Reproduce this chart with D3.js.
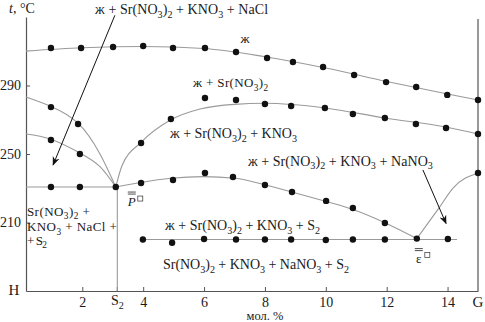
<!DOCTYPE html>
<html>
<head>
<meta charset="utf-8">
<script src="https://cdn.jsdelivr.net/npm/d3@7"></script>
<style>
  body { margin: 0; background: #fff; }
  svg text { font-family: "Liberation Serif", "Times New Roman", "DejaVu Serif", serif; fill: #1a1a1a; }
</style>
</head>
<body>
<svg id="chart" width="485" height="322"></svg>
<script>
// values: x in мол. %, y in °C
var xTicks = [2, 4, 6, 8, 10, 12, 14];
var yTicks = [210, 250, 290];
var s2 = 3.15;

// liquidus lines
var curveTop = [[0.15, 310.1], [2, 312.0], [4, 312.8], [6, 311.6], [8, 306.8], [10, 300.2], [12, 292.3], [14, 285.0], [15, 281.5]];
var curveA = [[0.15, 283.3], [0.97, 277.8], [1.86, 268.0], [2.58, 250.0], [3.1, 230.7]];
var curveB = [[0.15, 261.7], [0.97, 258.6], [1.92, 250.6], [2.58, 242.6], [3.1, 230.7]];
var curveC = [[3.1, 230.7], [3.3, 243.0], [3.93, 256.8], [4.91, 270.0], [5.87, 276.3], [7.0, 279.0], [8.0, 279.6], [9.97, 276.9], [11.94, 271.0], [13.98, 265.6], [15.0, 261.7]];
var curveD = [[3.1, 230.7], [3.93, 233.4], [4.9, 235.8], [5.97, 236.8], [7.02, 235.8], [8.0, 232.0], [8.89, 227.8], [10.01, 222.3], [10.89, 217.6], [11.94, 209.9], [12.99, 200.6]];
var curveE = [[12.99, 200.6], [13.72, 218.5], [14.18, 230.1], [15.0, 238.9]];
var eutecticP = [[0.15, 230.7], [3.1, 230.7]];
var solidus = [[3.99, 200.1], [14.31, 200.1]];
var s2Line = [[s2, 230.7], [s2, 170]];

// measured points
var dotsTop = [[0.97, 311.9], [1.96, 311.9], [3.01, 312.5], [4.0, 313.1], [4.98, 311.9], [6.03, 311.9], [7.05, 309.6], [8.07, 306.1], [8.92, 303.7], [9.91, 300.8], [10.93, 296.1], [11.98, 292.0], [12.97, 289.1], [13.99, 284.5], [15.0, 281.5]];
var dotsA = [[0.97, 277.4], [1.86, 267.5]];
var dotsB = [[0.97, 258.2], [1.92, 250.0]];
var dotsP = [[0.97, 230.7], [1.92, 230.7], [3.1, 230.7]];
var dotsC = [[3.93, 256.4], [4.91, 270.4], [6.03, 282.7], [7.05, 281.5], [8.0, 279.2], [8.86, 278.0], [9.97, 276.9], [10.89, 273.4], [11.94, 271.0], [12.96, 267.5], [13.95, 265.2], [15.0, 261.7]];
var dotsD = [[3.93, 233.1], [4.98, 234.8], [6.03, 238.9], [6.95, 236.6], [8.0, 231.9], [8.89, 227.8], [10.01, 222.6], [10.89, 218.5], [11.94, 209.7], [12.99, 200.6], [15.0, 238.9]];
var dotsS = [[3.99, 200.1], [4.95, 198.2], [6.0, 200.4], [7.05, 200.1], [8.0, 200.1], [8.86, 200.1], [10.0, 199.8], [10.89, 200.1], [11.94, 200.1], [14.01, 200.4]];

// arrows [from, to]
var arrows = [[[3.07, 331.0], [1.04, 243.6]], [[13.19, 240.7], [13.95, 209.4]]];

// phase field labels: text, x, y (baseline), width in the picture (px)
var fieldLabels = [
  ["ж + Sr(NO_3)_2 + KNO_3 + NaCl", 2.42, 331.6, 173],
  ["ж", 7.2, 314.8, 0],
  ["ж + Sr(NO_3)_2", 5.64, 289.1, 75],
  ["ж + Sr(NO_3)_2 + KNO_3", 4.88, 259.3, 127],
  ["ж + Sr(NO_3)_2 + KNO_3 + NaNO_3", 7.44, 243.0, 185],
  ["ж + Sr(NO_3)_2 + KNO_3 + S_2", 4.72, 205.6, 155],
  ["Sr(NO_3)_2 + KNO_3 + NaNO_3 + S_2", 4.65, 182.8, 186],
  ["Sr(NO_3)_2 +", 0.18, 213.8, 63],
  ["KNO_3 + NaCl +", 0.18, 205.0, 90],
  ["+ S_2", 0.18, 196.9, 20]
];

var svg = d3.select("#chart");
var x = d3.scaleLinear().domain([0.15, 15]).range([26, 478]);
var y = d3.scaleLinear().domain([170, 330]).range([291, 17]);

var line = d3.line().x(d => x(d[0])).y(d => y(d[1]));
var smooth = d3.line().x(d => x(d[0])).y(d => y(d[1])).curve(d3.curveMonotoneX);
var smoothN = d3.line().x(d => x(d[0])).y(d => y(d[1])).curve(d3.curveNatural);

svg.append("defs").append("marker")
  .attr("id", "head")
  .attr("viewBox", "0 0 10 10")
  .attr("refX", 9).attr("refY", 5)
  .attr("markerWidth", 9).attr("markerHeight", 9)
  .attr("markerUnits", "userSpaceOnUse")
  .attr("orient", "auto")
  .append("path").attr("d", "M0,1 L10,5 L0,9 L3,5 Z").attr("fill", "#111");

// axes
var gx = svg.append("g").attr("transform", "translate(0," + y(170) + ")")
  .call(d3.axisBottom(x).tickValues(xTicks).tickSize(-4).tickSizeOuter(0).tickPadding(6));
var gy = svg.append("g").attr("transform", "translate(" + x(0.15) + ",0)")
  .call(d3.axisLeft(y).tickValues(yTicks).tickSize(-4).tickSizeOuter(0).tickPadding(5));
[gx, gy].forEach(g => {
  g.attr("font-family", null);
  g.select(".domain").attr("stroke", "#555").attr("stroke-width", 1.2);
  g.selectAll(".tick line").attr("stroke", "#555");
  g.selectAll(".tick text").attr("font-size", 14).attr("fill", "#1a1a1a");
});
// right border (G side)
svg.append("line")
  .attr("x1", x(15)).attr("x2", x(15)).attr("y1", y(170)).attr("y2", y(328.8))
  .attr("stroke", "#555").attr("stroke-width", 1.2);
// S2 tick
svg.append("line")
  .attr("x1", x(s2)).attr("x2", x(s2)).attr("y1", y(170)).attr("y2", y(170) - 4)
  .attr("stroke", "#555");

function chem(sel, str) {
  // "_" makes the next char a subscript
  var parts = str.split(/(_.)/).filter(p => p);
  var low = false;
  parts.forEach(p => {
    if (p[0] === "_") {
      sel.append("tspan").attr("font-size", "0.72em").attr("dy", low ? 0 : 3.5).text(p[1]);
      low = true;
    } else {
      sel.append("tspan").attr("dy", low ? -3.5 : 0).text(p);
      low = false;
    }
  });
}

// bottom extra labels
chem(svg.append("text").attr("x", x(s2)).attr("y", 305).attr("text-anchor", "middle").attr("font-size", 14), "S_2");
svg.append("text").attr("x", x(15)).attr("y", 307).attr("text-anchor", "middle").attr("font-size", 15).text("G");
svg.append("text").attr("x", 14).attr("y", 295).attr("text-anchor", "middle").attr("font-size", 15).text("H");
svg.append("text").attr("x", x(8)).attr("y", 320).attr("text-anchor", "middle").attr("font-size", 12.5).text("мол. %");
var tl = svg.append("text").attr("x", 9).attr("y", 13).attr("font-size", 14);
tl.append("tspan").attr("font-style", "italic").text("t");
tl.append("tspan").text(", °C");

// lines
var lines = svg.append("g").attr("fill", "none").attr("stroke", "#9a9a9a").attr("stroke-width", 1.1);
lines.append("path").attr("d", smooth(curveTop));
lines.append("path").attr("d", smoothN(curveA));
lines.append("path").attr("d", smoothN(curveB));
lines.append("path").attr("d", smooth(curveC));
lines.append("path").attr("d", smooth(curveD));
lines.append("path").attr("d", smooth(curveE));
lines.append("path").attr("d", line(eutecticP));
lines.append("path").attr("d", line(solidus));
lines.append("path").attr("d", line(s2Line));

// dots
var allDots = [].concat(dotsTop, dotsA, dotsB, dotsP, dotsC, dotsD, dotsS);
svg.append("g").selectAll("circle")
  .data(allDots)
  .join("circle")
  .attr("cx", d => x(d[0]))
  .attr("cy", d => y(d[1]))
  .attr("r", 3.2)
  .attr("fill", "#111");

// arrows
svg.append("g").selectAll("line")
  .data(arrows)
  .join("line")
  .attr("x1", d => x(d[0][0])).attr("y1", d => y(d[0][1]))
  .attr("x2", d => x(d[1][0])).attr("y2", d => y(d[1][1]))
  .attr("stroke", "#111").attr("stroke-width", 1)
  .attr("marker-end", "url(#head)");

// field labels, stretched to the widths seen in the picture
fieldLabels.forEach(l => {
  var t = svg.append("text")
    .attr("x", x(l[1])).attr("y", y(l[2]))
    .attr("font-size", l[0].length > 16 ? 14 : 13);
  chem(t, l[0]);
  if (l[3]) t.attr("textLength", l[3]).attr("lengthAdjust", "spacing");
});

// invariant point labels (double bar + small square)
function pointLabel(px, py, ch, italic) {
  var g = svg.append("g").attr("transform", "translate(" + px + "," + py + ")");
  g.append("text").attr("x", 0).attr("y", 0).attr("text-anchor", "middle")
    .attr("font-size", 13).attr("font-style", italic ? "italic" : null).text(ch);
  g.append("line").attr("x1", -4).attr("x2", 4).attr("y1", -12).attr("y2", -12).attr("stroke", "#222").attr("stroke-width", 0.8);
  g.append("line").attr("x1", -4).attr("x2", 4).attr("y1", -14).attr("y2", -14).attr("stroke", "#222").attr("stroke-width", 0.8);
  g.append("rect").attr("x", 6).attr("y", -10).attr("width", 5).attr("height", 5)
    .attr("fill", "none").attr("stroke", "#333").attr("stroke-width", 0.7);
}
pointLabel(x(3.1) + 16, y(230.7) + 19, "P", true);
pointLabel(x(12.99) + 2, y(200.6) + 24, "ε", false);
</script>
</body>
</html>
